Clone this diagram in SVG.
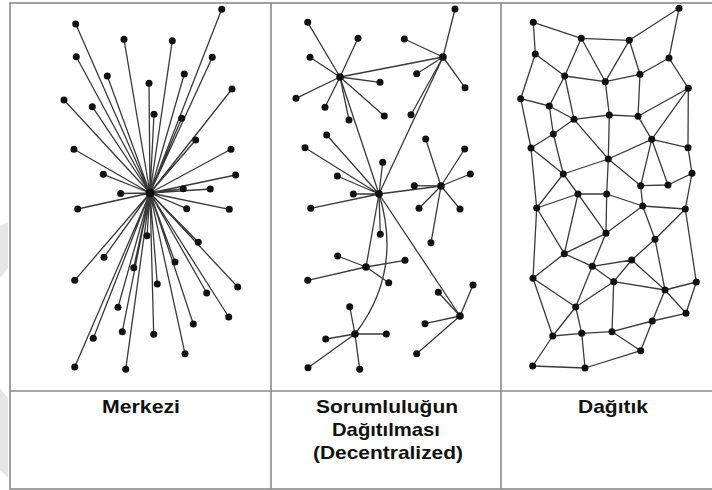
<svg xmlns="http://www.w3.org/2000/svg" width="712" height="490" viewBox="0 0 712 490">
<style>
.frame{fill:none;stroke:#8a8a8a;stroke-width:1.6}
.e{stroke:#3a3a3a;stroke-width:1.3;fill:none}
.n{fill:#111}
.lbl{font-family:"Liberation Sans",Arial,sans-serif;font-weight:bold;font-size:19px;fill:#111;text-anchor:middle}
.wm{fill:#e6e6e6}
</style>
<rect width="712" height="490" fill="#fff"/>
<polygon class="wm" points="0,226 8,222 8,268 0,278"/>
<polygon class="wm" points="0,388 8,398 8,478 0,470"/>
<g id="table">
<rect class="frame" x="10" y="3" width="720" height="486"/>
<line class="frame" x1="10" y1="391" x2="712" y2="391"/>
<line class="frame" x1="271" y1="3" x2="271" y2="489"/>
<line class="frame" x1="501" y1="3" x2="501" y2="489"/>
</g>
<g id="connectors">
<g id="star-edges" class="e">
<path d="M150,193L221.7,9.3M150,193L75.7,24M150,193L124,39.3M150,193L172.3,40.7M150,193L212.3,57.3M150,193L76.3,56.7M150,193L107.3,76M150,193L184.3,74M150,193L149,83.3M150,193L232,89M150,193L64,100M150,193L92.3,106.7M150,193L154,114.3M150,193L181.7,118.3M150,193L195.7,140M150,193L74,149.3M150,193L231,149.3M150,193L103.3,174.3M150,193L235.7,175M150,193L183.3,188.7M150,193L210.3,189M150,193L120.7,193.5M150,193L77.7,209M150,193L186.7,208.7M150,193L229.3,209.3M150,193L147,235.7M150,193L198.3,242.3M150,193L104,257.3M150,193L175,262M150,193L133.7,267.7M150,193L74.7,280.3M150,193L157.3,284M150,193L237.7,287M150,193L206.7,293M150,193L118,307.3M150,193L228.7,317M150,193L193.3,324M150,193L122.3,331.7M150,193L153.7,334.3M150,193L93.3,338.3M150,193L185,353.7M150,193L74.7,367M150,193L125.7,369.3"/>
</g>
<g id="decentral-edges" class="e">
<path d="M340,77L307.7,22.3M340,77L358,38.3M340,77L310,57.3M340,77L380,82.3M340,77L296,98.3M340,77L325,107.3M340,77L349,120M340,77L384.3,116"/>
<path d="M443,57L455,9M443,57L404.3,39M443,57L416.7,73.7M443,57L465,87.7M443,57L411,114.7"/>
<path d="M379,194L305,147.7M379,194L326.7,135M379,194L337.3,176M379,194L353.3,194M379,194L382.7,162.3M379,194L310.7,208.3M379,194L380.3,234.3"/>
<path d="M441,186L425.7,139M441,186L464.7,149M441,186L470.3,174M441,186L414.3,185.7M441,186L419,208.3M441,186L460,209M441,186L431,242.7"/>
<path d="M366,267L337.7,256M366,267L405,260.3M366,267L307.7,280.3M366,267L388.7,282.7"/>
<path d="M460,316L473,285M460,316L438.3,292.3M460,316L425,323.7M460,316L416.7,353.7"/>
<path d="M355,334L349.7,306.7M355,334L325.7,339M355,334L386.3,334M355,334L308,367.7M355,334L359.7,369.3"/>
<path d="M340,77L443,57M340,77L379,194M443,57L379,194M379,194L441,186M379,194L366,267M379,194L460,316M379,194Q403,272 355,334"/>
</g>
<g id="distributed-edges" class="e">
<path d="M533.3,22.3L581.3,38.3M533.3,22.3L535.3,54M581.3,38.3L629.3,40.3M629.3,40.3L679,8.3M679,8.3L669,58M581.3,38.3L564.7,76M581.3,38.3L605.3,81.7M629.3,40.3L605.3,81.7M629.3,40.3L640,74.3M669,58L640,74.3M669,58L688.3,88.3M535.3,54L564.7,76M535.3,54L520.7,98.7M564.7,76L605.3,81.7M605.3,81.7L640,74.3M564.7,76L549.3,106M564.7,76L574,119.3M605.3,81.7L609.3,115M640,74.3L638,116.3M520.7,98.7L549.3,106M520.7,98.7L531,148M549.3,106L553.3,134M549.3,106L574,119.3M574,119.3L609.3,115M609.3,115L638,116.3M574,119.3L553.3,134M553.3,134L531,148M688.3,88.3L638,116.3M688.3,88.3L651.7,139.3M688.3,88.3L688,147.7M638,116.3L651.7,139.3M574,119.3L608.3,159M609.3,115L608.3,159M651.7,139.3L608.3,159M553.3,134L563.3,174M531,148L563.3,174M651.7,139.3L688,147.7M608.3,159L563.3,174M651.7,139.3L640.7,185.7M651.7,139.3L668,185M688,147.7L692,173.3M692,173.3L668,185M608.3,159L640.7,185.7M640.7,185.7L668,185M563.3,174L578,194M578,194L606.7,194M608.3,159L606.7,194"/>
<path d="M531,148L536.7,208M563.3,174L536.7,208M536.7,208L578,194M578,194L564.3,253.7M578,194L606,233.3M606.7,194L606,233.3M606.7,194L642.7,206M640.7,185.7L642.7,206M642.7,206L685.3,209M642.7,206L606,233.3M642.7,206L655,239.3M692,173.3L685.3,209M685.3,209L655,239.3M655,239.3L631.7,260M685.3,209L696.3,282M655,239.3L665,290M606,233.3L564.3,253.7M606,233.3L592.3,266.3M536.7,208L564.3,253.7M536.7,208L533,278.3M564.3,253.7L592.3,266.3M592.3,266.3L631.7,260M592.3,266.3L613.7,281.7M592.3,266.3L575.7,307M631.7,260L613.7,281.7M631.7,260L665,290M613.7,281.7L665,290M613.7,281.7L575.7,307M613.7,281.7L612,331.7M533,278.3L564.3,253.7M533,278.3L575.7,307M533,278.3L552.7,336M575.7,307L552.7,336M575.7,307L581.7,333.3M665,290L696.3,282M665,290L686,313.3M665,290L652.3,321M696.3,282L686,313.3M686,313.3L652.3,321M652.3,321L612,331.7M652.3,321L640.7,350.7M552.7,336L581.7,333.3M552.7,336L532.7,366M581.7,333.3L612,331.7M581.7,333.3L585,368M612,331.7L640.7,350.7M640.7,350.7L585,368M532.7,366L585,368"/>
</g>
</g>
<g id="nodes-centralized" class="n">
<g id="hub1"><circle cx="150" cy="193" r="4.5"/></g>
<g id="m1"><circle cx="221.7" cy="9.3" r="3.5"/></g>
<g id="m2"><circle cx="75.7" cy="24" r="3.5"/></g>
<g id="m3"><circle cx="124" cy="39.3" r="3.5"/></g>
<g id="m4"><circle cx="172.3" cy="40.7" r="3.5"/></g>
<g id="m5"><circle cx="212.3" cy="57.3" r="3.5"/></g>
<g id="m6"><circle cx="76.3" cy="56.7" r="3.5"/></g>
<g id="m7"><circle cx="107.3" cy="76" r="3.5"/></g>
<g id="m8"><circle cx="184.3" cy="74" r="3.5"/></g>
<g id="m9"><circle cx="149" cy="83.3" r="3.5"/></g>
<g id="m10"><circle cx="232" cy="89" r="3.5"/></g>
<g id="m11"><circle cx="64" cy="100" r="3.5"/></g>
<g id="m12"><circle cx="92.3" cy="106.7" r="3.5"/></g>
<g id="m13"><circle cx="154" cy="114.3" r="3.5"/></g>
<g id="m14"><circle cx="181.7" cy="118.3" r="3.5"/></g>
<g id="m15"><circle cx="195.7" cy="140" r="3.5"/></g>
<g id="m16"><circle cx="74" cy="149.3" r="3.5"/></g>
<g id="m17"><circle cx="231" cy="149.3" r="3.5"/></g>
<g id="m18"><circle cx="103.3" cy="174.3" r="3.5"/></g>
<g id="m19"><circle cx="235.7" cy="175" r="3.5"/></g>
<g id="m20"><circle cx="183.3" cy="188.7" r="3.5"/></g>
<g id="m21"><circle cx="210.3" cy="189" r="3.5"/></g>
<g id="m22"><circle cx="120.7" cy="193.5" r="3.5"/></g>
<g id="m23"><circle cx="77.7" cy="209" r="3.5"/></g>
<g id="m24"><circle cx="186.7" cy="208.7" r="3.5"/></g>
<g id="m25"><circle cx="229.3" cy="209.3" r="3.5"/></g>
<g id="m26"><circle cx="147" cy="235.7" r="3.5"/></g>
<g id="m27"><circle cx="198.3" cy="242.3" r="3.5"/></g>
<g id="m28"><circle cx="104" cy="257.3" r="3.5"/></g>
<g id="m29"><circle cx="175" cy="262" r="3.5"/></g>
<g id="m30"><circle cx="133.7" cy="267.7" r="3.5"/></g>
<g id="m31"><circle cx="74.7" cy="280.3" r="3.5"/></g>
<g id="m32"><circle cx="157.3" cy="284" r="3.5"/></g>
<g id="m33"><circle cx="237.7" cy="287" r="3.5"/></g>
<g id="m34"><circle cx="206.7" cy="293" r="3.5"/></g>
<g id="m35"><circle cx="118" cy="307.3" r="3.5"/></g>
<g id="m36"><circle cx="228.7" cy="317" r="3.5"/></g>
<g id="m37"><circle cx="193.3" cy="324" r="3.5"/></g>
<g id="m38"><circle cx="122.3" cy="331.7" r="3.5"/></g>
<g id="m39"><circle cx="153.7" cy="334.3" r="3.5"/></g>
<g id="m40"><circle cx="93.3" cy="338.3" r="3.5"/></g>
<g id="m41"><circle cx="185" cy="353.7" r="3.5"/></g>
<g id="m42"><circle cx="74.7" cy="367" r="3.5"/></g>
<g id="m43"><circle cx="125.7" cy="369.3" r="3.5"/></g>
</g>
<g id="nodes-decentralized" class="n">
<g id="hubA"><circle cx="340" cy="77" r="3.8"/></g>
<g id="hubB"><circle cx="443" cy="57" r="3.8"/></g>
<g id="hubC"><circle cx="379" cy="194" r="3.8"/></g>
<g id="hubD"><circle cx="441" cy="186" r="3.8"/></g>
<g id="hubE"><circle cx="366" cy="267" r="3.8"/></g>
<g id="hubF"><circle cx="460" cy="316" r="3.8"/></g>
<g id="hubG"><circle cx="355" cy="334" r="3.8"/></g>
<g id="a1"><circle cx="307.7" cy="22.3" r="3.5"/></g>
<g id="a2"><circle cx="358" cy="38.3" r="3.5"/></g>
<g id="a3"><circle cx="310" cy="57.3" r="3.5"/></g>
<g id="a4"><circle cx="380" cy="82.3" r="3.5"/></g>
<g id="a5"><circle cx="296" cy="98.3" r="3.5"/></g>
<g id="a6"><circle cx="325" cy="107.3" r="3.5"/></g>
<g id="a7"><circle cx="349" cy="120" r="3.5"/></g>
<g id="a8"><circle cx="384.3" cy="116" r="3.5"/></g>
<g id="b1"><circle cx="455" cy="9" r="3.5"/></g>
<g id="b2"><circle cx="404.3" cy="39" r="3.5"/></g>
<g id="b3"><circle cx="416.7" cy="73.7" r="3.5"/></g>
<g id="b4"><circle cx="465" cy="87.7" r="3.5"/></g>
<g id="b5"><circle cx="411" cy="114.7" r="3.5"/></g>
<g id="c1"><circle cx="305" cy="147.7" r="3.5"/></g>
<g id="c2"><circle cx="326.7" cy="135" r="3.5"/></g>
<g id="c3"><circle cx="337.3" cy="176" r="3.5"/></g>
<g id="c4"><circle cx="353.3" cy="194" r="3.5"/></g>
<g id="c5"><circle cx="382.7" cy="162.3" r="3.5"/></g>
<g id="c6"><circle cx="310.7" cy="208.3" r="3.5"/></g>
<g id="c7"><circle cx="380.3" cy="234.3" r="3.5"/></g>
<g id="d1"><circle cx="425.7" cy="139" r="3.5"/></g>
<g id="d2"><circle cx="464.7" cy="149" r="3.5"/></g>
<g id="d3"><circle cx="470.3" cy="174" r="3.5"/></g>
<g id="d4"><circle cx="414.3" cy="185.7" r="3.5"/></g>
<g id="d5"><circle cx="419" cy="208.3" r="3.5"/></g>
<g id="d6"><circle cx="460" cy="209" r="3.5"/></g>
<g id="d7"><circle cx="431" cy="242.7" r="3.5"/></g>
<g id="e1"><circle cx="337.7" cy="256" r="3.5"/></g>
<g id="e2"><circle cx="405" cy="260.3" r="3.5"/></g>
<g id="e3"><circle cx="307.7" cy="280.3" r="3.5"/></g>
<g id="e4"><circle cx="388.7" cy="282.7" r="3.5"/></g>
<g id="f1"><circle cx="473" cy="285" r="3.5"/></g>
<g id="f2"><circle cx="438.3" cy="292.3" r="3.5"/></g>
<g id="f3"><circle cx="425" cy="323.7" r="3.5"/></g>
<g id="f4"><circle cx="416.7" cy="353.7" r="3.5"/></g>
<g id="g1"><circle cx="349.7" cy="306.7" r="3.5"/></g>
<g id="g2"><circle cx="325.7" cy="339" r="3.5"/></g>
<g id="g3"><circle cx="386.3" cy="334" r="3.5"/></g>
<g id="g4"><circle cx="308" cy="367.7" r="3.5"/></g>
<g id="g5"><circle cx="359.7" cy="369.3" r="3.5"/></g>
</g>
<g id="nodes-distributed" class="n">
<g id="n1"><circle cx="679" cy="8.3" r="3.5"/></g>
<g id="n2"><circle cx="533.3" cy="22.3" r="3.5"/></g>
<g id="n3"><circle cx="581.3" cy="38.3" r="3.5"/></g>
<g id="n4"><circle cx="629.3" cy="40.3" r="3.5"/></g>
<g id="n5"><circle cx="669" cy="58" r="3.5"/></g>
<g id="n6"><circle cx="535.3" cy="54" r="3.5"/></g>
<g id="n7"><circle cx="564.7" cy="76" r="3.5"/></g>
<g id="n8"><circle cx="605.3" cy="81.7" r="3.5"/></g>
<g id="n9"><circle cx="640" cy="74.3" r="3.5"/></g>
<g id="n10"><circle cx="688.3" cy="88.3" r="3.5"/></g>
<g id="n11"><circle cx="520.7" cy="98.7" r="3.5"/></g>
<g id="n12"><circle cx="549.3" cy="106" r="3.5"/></g>
<g id="n13"><circle cx="574" cy="119.3" r="3.5"/></g>
<g id="n14"><circle cx="609.3" cy="115" r="3.5"/></g>
<g id="n15"><circle cx="638" cy="116.3" r="3.5"/></g>
<g id="n16"><circle cx="553.3" cy="134" r="3.5"/></g>
<g id="n17"><circle cx="651.7" cy="139.3" r="3.5"/></g>
<g id="n18"><circle cx="531" cy="148" r="3.5"/></g>
<g id="n19"><circle cx="688" cy="147.7" r="3.5"/></g>
<g id="n20"><circle cx="608.3" cy="159" r="3.5"/></g>
<g id="n21"><circle cx="563.3" cy="174" r="3.5"/></g>
<g id="n22"><circle cx="692" cy="173.3" r="3.5"/></g>
<g id="n23"><circle cx="640.7" cy="185.7" r="3.5"/></g>
<g id="n24"><circle cx="668" cy="185" r="3.5"/></g>
<g id="n25"><circle cx="578" cy="194" r="3.5"/></g>
<g id="n26"><circle cx="606.7" cy="194" r="3.5"/></g>
<g id="n27"><circle cx="642.7" cy="206" r="3.5"/></g>
<g id="n28"><circle cx="685.3" cy="209" r="3.5"/></g>
<g id="n29"><circle cx="536.7" cy="208" r="3.5"/></g>
<g id="n30"><circle cx="606" cy="233.3" r="3.5"/></g>
<g id="n31"><circle cx="655" cy="239.3" r="3.5"/></g>
<g id="n32"><circle cx="564.3" cy="253.7" r="3.5"/></g>
<g id="n33"><circle cx="631.7" cy="260" r="3.5"/></g>
<g id="n34"><circle cx="592.3" cy="266.3" r="3.5"/></g>
<g id="n35"><circle cx="533" cy="278.3" r="3.5"/></g>
<g id="n36"><circle cx="613.7" cy="281.7" r="3.5"/></g>
<g id="n37"><circle cx="665" cy="290" r="3.5"/></g>
<g id="n38"><circle cx="696.3" cy="282" r="3.5"/></g>
<g id="n39"><circle cx="575.7" cy="307" r="3.5"/></g>
<g id="n40"><circle cx="686" cy="313.3" r="3.5"/></g>
<g id="n41"><circle cx="652.3" cy="321" r="3.5"/></g>
<g id="n42"><circle cx="552.7" cy="336" r="3.5"/></g>
<g id="n43"><circle cx="581.7" cy="333.3" r="3.5"/></g>
<g id="n44"><circle cx="612" cy="331.7" r="3.5"/></g>
<g id="n45"><circle cx="640.7" cy="350.7" r="3.5"/></g>
<g id="n46"><circle cx="532.7" cy="366" r="3.5"/></g>
<g id="n47"><circle cx="585" cy="368" r="3.5"/></g>
</g>
<g id="labels">
<text class="lbl" x="141" y="413" textLength="78" lengthAdjust="spacingAndGlyphs">Merkezi</text>
<text class="lbl" x="387" y="413" textLength="142" lengthAdjust="spacingAndGlyphs">Sorumluluğun</text>
<text class="lbl" x="386" y="436" textLength="108" lengthAdjust="spacingAndGlyphs">Dağıtılması</text>
<text class="lbl" x="388" y="459" textLength="150" lengthAdjust="spacingAndGlyphs">(Decentralized)</text>
<text class="lbl" x="613" y="413" textLength="70" lengthAdjust="spacingAndGlyphs">Dağıtık</text>
</g>
</svg>
